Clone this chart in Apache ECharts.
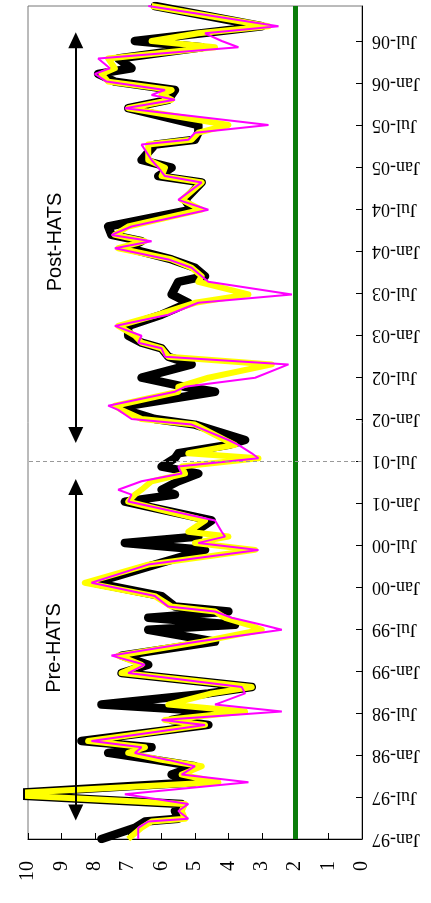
<!DOCTYPE html>
<html><head><meta charset="utf-8">
<script src="https://cdn.jsdelivr.net/npm/echarts@6/dist/echarts.min.js"></script>
<style>html,body{margin:0;padding:0;background:#fff}#c{width:431px;height:903px}</style>
</head><body><div id="c"></div>
<script>
// sample times in months since Jan-97
const months = [0,1.6,2.5,2.9,4.0,5.0,6.4,8.1,9.2,10.4,11.3,12.3,13.1,14.0,16.3,17.0,18.2,19.2,20.8,21.7,23.7,24.9,26.2,28.2,29.9,30.6,31.6,32.5,33.2,34.7,36.6,39.2,41.3,42.3,43.2,43.9,45.5,48.2,49.2,49.9,51.1,52.2,53.2,54.4,55.1,56.3,57.0,59.2,60.0,61.3,61.9,63.9,64.6,65.9,67.8,68.9,70.1,70.9,71.9,73.3,74.9,76.6,77.8,79.6,80.4,81.6,82.8,84.4,85.4,86.3,87.5,89.9,91.3,93.8,94.7,95.9,97.0,99.2,99.9,100.9,102.0,104.4,105.6,106.3,107.0,108.2,109.3,110.1,111.5,113.1,114.0,115.1,116.1,119.0];
const pinkValues = [6.7,6.7,6.4,5.2,5.5, 5.2,7.1,3.4,5.4,5.0, 5.8,6.8,6.6,8.1,4.7, 6.0,2.4,4.4,3.5,3.6, 7.0,6.5,7.5,4.9,2.4, 3.0,3.9,4.4,5.8,6.2, 8.1,6.4,3.1,4.9,4.1, 4.2,4.4,7.0,6.9,7.3, 6.6,5.4,5.5,3.1,3.3, 3.7,4.0,5.1,6.9,7.3, 7.6,5.6,5.3,3.2,2.2, 5.9,6.0,6.7,6.6,7.4, 5.8,4.9,2.1,4.6,4.8, 5.1,5.8,7.4,6.3,7.5, 6.9,4.6,5.5,4.8,5.9, 6.1,6.3,6.6,5.2,5.0, 2.8,7.1,5.6,6.3,5.9, 7.65,8.0,7.55,7.9,3.7, 4.2,4.7,2.5,6.4];
const yellowValues = [7.0,6.6,6.3,5.3,5.4, 5.3,11,4.3,5.4,4.8, 6.0,7.0,6.5,8.2,4.7, 5.9,3.5,5.8,4.5,3.3, 7.2,6.6,7.3,4.8,3.0, 3.4,4.1,4.4,5.7,6.2, 8.3,6.4,3.2,5.0,4.0, 5.2,4.7,7.0,6.8,6.6, 6.3,5.3,5.4,3.1,5.2, 3.8,4.1,5.0,6.6,7.2, 7.4,5.5,5.5,4.6,2.7, 5.8,6.0,6.6,6.8,7.3, 6.1,5.0,3.4,4.9,4.8, 5.1,5.7,7.3,6.5,7.4, 7.0,4.8,5.4,4.8,6.0, 5.9,6.4,6.4,5.1,4.9, 4.0,7.0,5.7,6.0,5.7, 7.6,7.8,7.4,7.6,4.4, 6.3,4.9,2.8,6.3];
const blackValues = [7.8,6.8,6.5,5.5,5.6, 5.4,11,5.0,5.7,5.0, 6.2,7.6,6.3,8.4,4.6, 5.7,4.4,7.8,4.6,3.3, 7.2,6.4,7.2,4.4,6.4, 3.8,6.4,4.0,5.6,6.0, 8.0,6.2,4.7,7.1,4.9, 5.0,4.5,7.1,5.6,6.0, 5.5,4.9,6.0,5.6,5.5, 4.0,3.5,5.0,6.2,7.1, 7.0,4.4,5.3,6.6,5.1, 5.8,6.0,6.6,7.0,7.0, 6.0,5.2,5.7,5.5,4.7, 5.0,5.7,7.0,6.6,7.5, 7.6,5.1,5.3,4.8,6.1, 5.7,6.6,6.2,5.0,4.9, 4.9,7.0,5.8,5.7,5.6, 7.4,7.9,6.9,7.3,4.8, 6.8,4.8,3.0,6.2];
const thresholdValue = 2;
const hatsStartMonth = 54;
const periodLabels = ['Pre-HATS', 'Post-HATS'];
const arrowValue = 8.57;
const prePeriod = [3.8, 50.3];
const postPeriod = [57.7, 114.1];

function pair(vals){ return months.map((m,i)=>[vals[i], m]); }
function monthLabel(v){
  if (v % 6 !== 0) return '';
  const y = (97 + Math.floor(v/12)) % 100;
  return (v % 12 === 0 ? 'Jan-' : 'Jul-') + String(y).padStart(2,'0');
}
const serif = 'Liberation Serif';
const chart = echarts.init(document.getElementById('c'), null, {renderer:'canvas'});
chart.setOption({
  animation:false,
  backgroundColor:'#fff',
  grid:{left:28, top:6, width:334, height:833, show:true, borderColor:'#777', borderWidth:1},
  xAxis:{type:'value', min:0, max:10, interval:1, inverse:true, position:'bottom',
    axisLine:{show:true, onZero:false, lineStyle:{color:'#000', width:1}},
    axisTick:{show:true, inside:true, length:6, lineStyle:{color:'#000'}},
    splitLine:{show:false},
    axisLabel:{rotate:90, margin:22, fontFamily:serif, fontSize:20, color:'#000'}},
  yAxis:{type:'value', min:0, max:119, interval:6, position:'right',
    axisLine:{show:true, onZero:false, lineStyle:{color:'#000', width:1}},
    axisTick:{show:true, inside:true, length:6, lineStyle:{color:'#000'}},
    splitLine:{show:false},
    axisLabel:{rotate:180, margin:10, formatter:monthLabel, fontFamily:serif, fontSize:18, color:'#000', showMaxLabel:false}},
  series:[
    {type:'line', data:pair(blackValues), symbol:'none', z:2,
     lineStyle:{color:'#000', width:8.5, cap:'round', join:'round'}},
    {type:'line', data:pair(yellowValues), symbol:'none', z:3,
     lineStyle:{color:'#ffff00', width:6, join:'round'}},
    {type:'line', data:pair(pinkValues), symbol:'none', z:4,
     lineStyle:{color:'#ff00ff', width:2}},
    {type:'line', data:[], z:1, silent:true,
     markLine:{silent:true, symbol:'none', label:{show:false}, animation:false,
       data:[
         {xAxis:thresholdValue, lineStyle:{color:'#0a7d0a', width:5, type:'solid'}},
         {yAxis:hatsStartMonth, lineStyle:{color:'#999', width:1, type:[4,3]}}
       ]}},
    {type:'line', data:[], z:5, silent:true,
     markLine:{silent:true, symbol:['triangle','triangle'], symbolSize:[15,16], label:{show:false}, animation:false,
       lineStyle:{color:'#000', width:2, type:'solid'},
       data:[
         [{coord:[arrowValue, prePeriod[0]]},{coord:[arrowValue, prePeriod[1]]}],
         [{coord:[arrowValue, postPeriod[0]]},{coord:[arrowValue, postPeriod[1]]}]
       ]}}
  ],
  graphic:[
    {type:'text', x:54, y:648, rotation:Math.PI/2, style:{text:periodLabels[0], font:'20px "Liberation Sans"', fill:'#000', align:'center', verticalAlign:'middle'}},
    {type:'text', x:55, y:242, rotation:Math.PI/2, style:{text:periodLabels[1], font:'20px "Liberation Sans"', fill:'#000', align:'center', verticalAlign:'middle'}}
  ]
});
</script></body></html>
